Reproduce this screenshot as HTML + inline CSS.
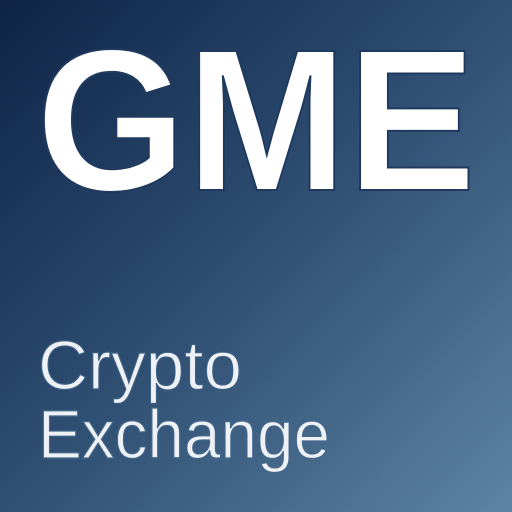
<!DOCTYPE html>
<html>
<head>
<meta charset="utf-8">
<style>
  html, body { margin: 0; padding: 0; width: 512px; height: 512px; overflow: hidden; }
  svg { display: block; }
</style>
</head>
<body>
<svg width="512" height="512" viewBox="0 0 512 512">
  <defs>
    <linearGradient id="bg" x1="0" y1="0" x2="1" y2="1">
      <stop offset="0" stop-color="#0d2446"/>
      <stop offset="0.5" stop-color="#2f4f73"/>
      <stop offset="1" stop-color="#5d84a2"/>
    </linearGradient>
  </defs>
  <rect x="0" y="0" width="512" height="512" fill="url(#bg)"/>
  <text x="36" y="190" font-family="'Liberation Sans', sans-serif" font-weight="bold" font-size="202" fill="#ffffff" stroke="#1f3a5e" stroke-width="2" paint-order="fill" textLength="440" lengthAdjust="spacingAndGlyphs">GME</text>
  <text x="38" y="389" font-family="'Liberation Sans', sans-serif" font-size="69" fill="#eef2f6" stroke="#3d5f82" stroke-width="1.2" textLength="204" lengthAdjust="spacingAndGlyphs">Crypto</text>
  <text x="38" y="458" font-family="'Liberation Sans', sans-serif" font-size="69" fill="#eef2f6" stroke="#45688a" stroke-width="1.2" textLength="292" lengthAdjust="spacingAndGlyphs">Exchange</text>
</svg>
</body>
</html>
